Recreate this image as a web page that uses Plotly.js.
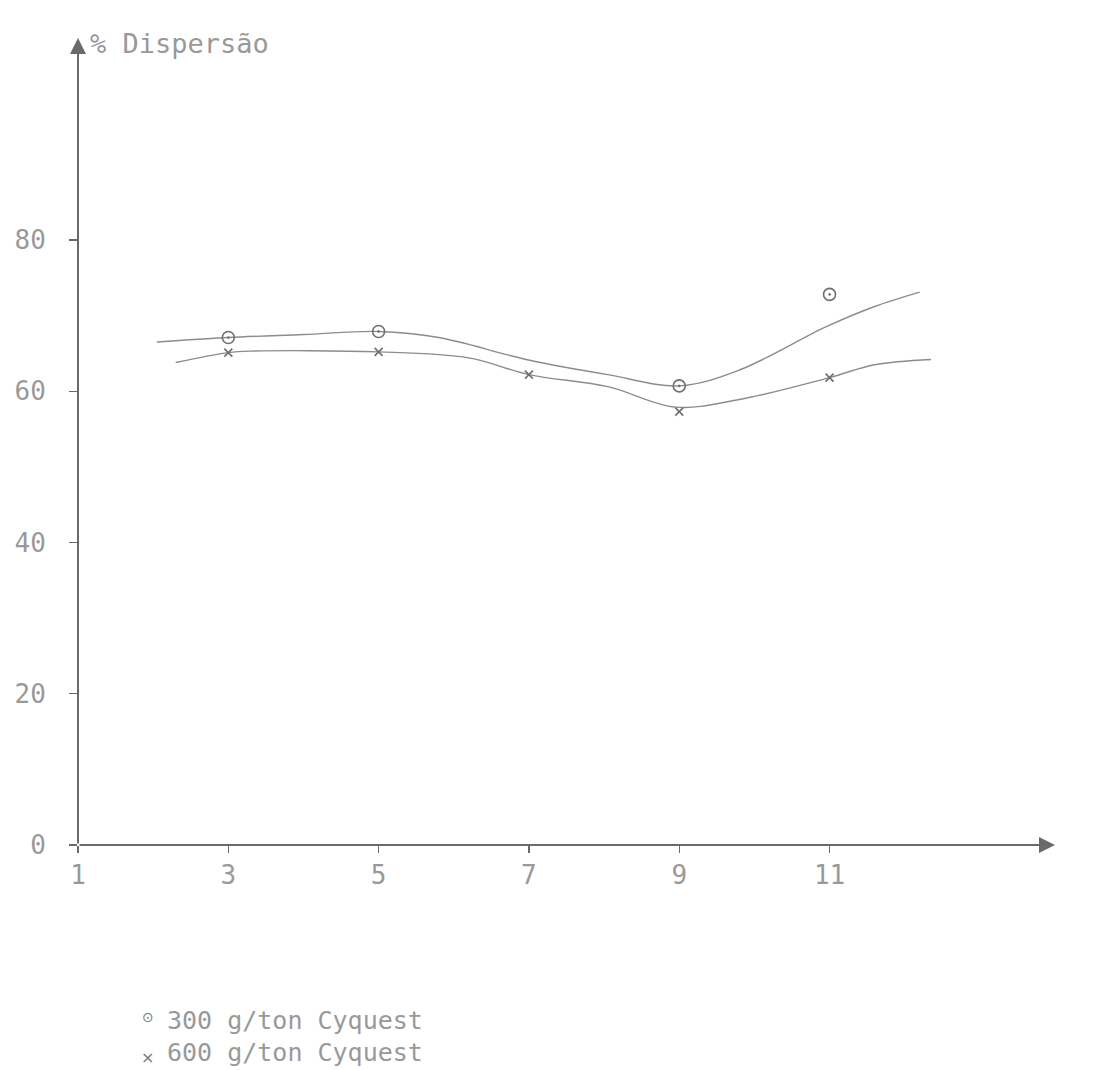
<!DOCTYPE html>
<html>
<head>
<meta charset="utf-8">
<script src="https://cdn.plot.ly/plotly-3.0.1.min.js"></script>
<style>html,body{margin:0;padding:0;background:#fff;}#chart{width:1100px;height:1070px;}</style>
</head>
<body>
<div id="chart"></div>
<script>
// Measured points
const phPoints300 = [3, 5, 9, 11];
const disp300 = [67.1, 67.9, 60.7, 72.8];
const phPoints600 = [3, 5, 7, 9, 11];
const disp600 = [65.1, 65.2, 62.2, 57.3, 61.8];

// Hand-drawn fitted curves
const curvePh300 = [2.05, 3.0, 4.0, 5.0, 5.8, 6.72, 7.1, 8.05, 9.0, 9.8, 10.95, 11.6, 12.2];
const curve300   = [66.5, 67.1, 67.5, 67.9, 67.1, 64.8, 63.9, 62.2, 60.7, 62.8, 68.5, 71.2, 73.1];
const curvePh600 = [2.3, 3.0, 3.3, 5.0, 6.2, 7.0, 8.05, 8.95, 9.8, 11.0, 11.6, 12.35];
const curve600   = [63.8, 65.1, 65.3, 65.2, 64.4, 62.2, 60.6, 57.9, 58.9, 61.8, 63.5, 64.2];

const xTicks = [1, 3, 5, 7, 9, 11];
const yTicks = [0, 20, 40, 60, 80];
const seriesNames = ["300 g/ton Cyquest", "600 g/ton Cyquest"];
const seriesGlyphs = ["⊙", "×"];

const FONT = "DejaVu Sans Mono";
const TXT = "#999999";
const LINE = "#8c8c8c";
const AX = "#6a6a6a";

const traces = [
  {x: curvePh300, y: curve300, mode: "lines", line: {shape: "spline", smoothing: 1, color: LINE, width: 1.4}, showlegend: false, hoverinfo: "skip"},
  {x: curvePh600, y: curve600, mode: "lines", line: {shape: "spline", smoothing: 1, color: LINE, width: 1.4}, showlegend: false, hoverinfo: "skip"},
  {x: phPoints300, y: disp300, mode: "markers", name: seriesNames[0], showlegend: false,
   marker: {symbol: "circle-open-dot", size: 12, color: "#6f6f6f", line: {width: 1.6, color: "#6f6f6f"}}},
  {x: phPoints600, y: disp600, mode: "markers", name: seriesNames[1], showlegend: false,
   marker: {symbol: "x-thin-open", size: 8, color: "#6f6f6f", line: {width: 1.6, color: "#6f6f6f"}}}
];

const legendY = [-0.217, -0.257];
const legendAnn = [];
seriesNames.forEach((n, i) => {
  legendAnn.push({xref: "paper", yref: "paper", x: 0.0716, y: legendY[i] - (i === 1 ? 0.006 : -0.004),
    xanchor: "center", yanchor: "middle", showarrow: false, text: seriesGlyphs[i],
    font: {family: "DejaVu Sans", size: i === 0 ? 14 : 16, color: "#7a7a7a"}});
  legendAnn.push({xref: "paper", yref: "paper", x: 0.089, y: legendY[i],
    xanchor: "left", yanchor: "middle", showarrow: false, text: n,
    font: {family: FONT, size: 25, color: TXT}});
});

const layout = {
  width: 1100, height: 1070,
  margin: {l: 78, r: 45, t: 38, b: 225},
  paper_bgcolor: "#fff", plot_bgcolor: "#fff",
  font: {family: FONT, size: 26, color: TXT},
  showlegend: false,
  xaxis: {range: [1, 14], showgrid: false, zeroline: false, showline: false,
          tickmode: "array", tickvals: xTicks, ticktext: xTicks.map(String),
          ticks: "outside", ticklen: 7, tickcolor: AX, tickwidth: 1.2,
          tickfont: {family: FONT, size: 26, color: TXT}},
  yaxis: {range: [0, 106.7], showgrid: false, zeroline: false, showline: false,
          tickmode: "array", tickvals: yTicks, ticktext: yTicks.map(String),
          ticks: "outside", ticklen: 8, tickcolor: AX, tickwidth: 1.2,
          ticklabelstandoff: 18,
          tickfont: {family: FONT, size: 26, color: TXT}},
  annotations: [
    {x: 14, y: 0, ax: 1, ay: 0, xref: "x", yref: "y", axref: "x", ayref: "y",
     showarrow: true, arrowhead: 2, arrowsize: 1.6, arrowwidth: 2, arrowcolor: AX, text: ""},
    {x: 1, y: 106.7, ax: 1, ay: 0, xref: "x", yref: "y", axref: "x", ayref: "y",
     showarrow: true, arrowhead: 2, arrowsize: 1.6, arrowwidth: 2, arrowcolor: AX, text: ""},
    {x: 1.13, y: 106, xref: "x", yref: "y", xanchor: "left", yanchor: "middle",
     showarrow: false, text: "% Dispersão", font: {family: FONT, size: 27, color: TXT}},
    {x: 14.27, y: -3.9, xref: "x", yref: "y", xanchor: "center", yanchor: "middle",
     showarrow: false, text: "pH", font: {family: FONT, size: 26, color: TXT}}
  ].concat(legendAnn)
};

Plotly.newPlot("chart", traces, layout, {staticPlot: true, displayModeBar: false});
</script>
</body>
</html>
